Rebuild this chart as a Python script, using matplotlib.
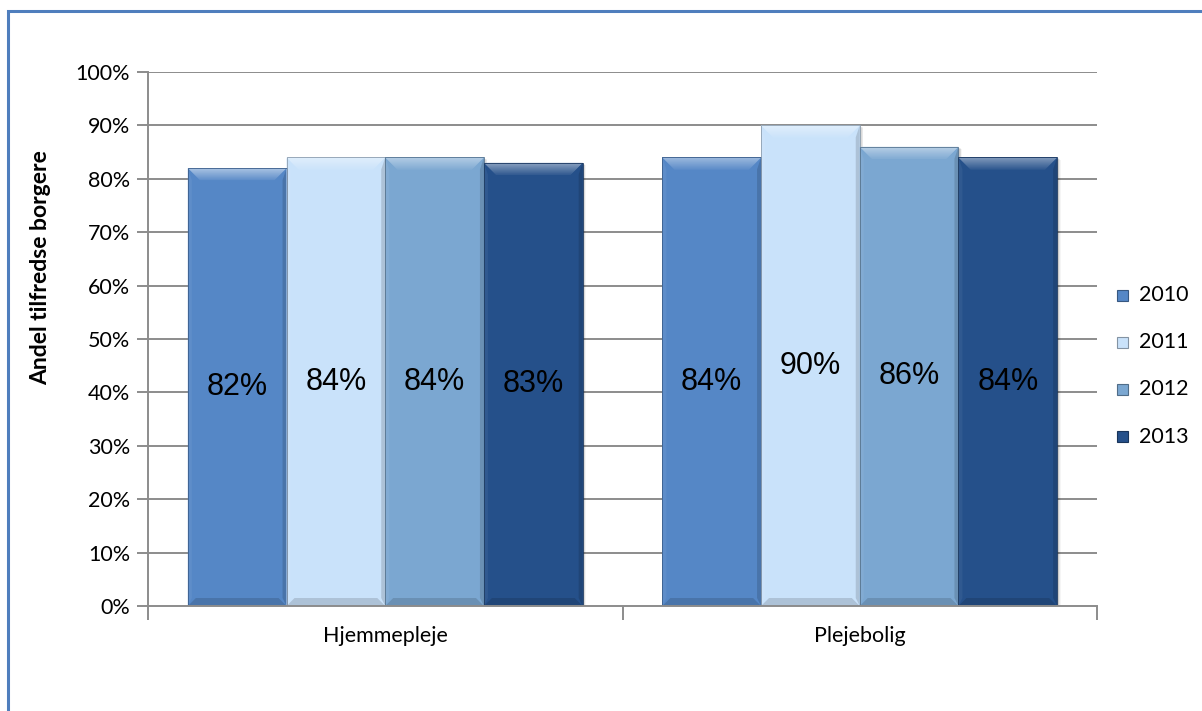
import matplotlib
matplotlib.use("Agg")
import matplotlib.pyplot as plt
from matplotlib.patches import Polygon, Rectangle
from matplotlib.colors import to_rgb
import numpy as np

# Survey data: share of satisfied citizens per service and year
categories = ["Hjemmepleje", "Plejebolig"]
years = ["2010", "2011", "2012", "2013"]
values_2010 = [82, 84]
values_2011 = [84, 90]
values_2012 = [84, 86]
values_2013 = [83, 84]
series = [values_2010, values_2011, values_2012, values_2013]
colors = ["#5587C6", "#C9E2FA", "#7BA7D1", "#25508A"]
y_ticks = [0, 10, 20, 30, 40, 50, 60, 70, 80, 90, 100]
y_label = "Andel tilfredse borgere"

W, H, DPI = 1202, 711, 100
fig = plt.figure(figsize=(W / DPI, H / DPI), dpi=DPI)
fig.patch.set_facecolor("white")

# Outer chart frame (runs off the right and bottom edges)
fig.add_artist(Rectangle((8 / W, -0.05), 1.2, (H - 11) / H + 0.05,
                         transform=fig.transFigure, fill=False,
                         edgecolor="#4F7EBD", lw=2.2, clip_on=False))

ax_l, ax_r, ax_t, ax_b = 148, 1097, 72, 606
ax = fig.add_axes([ax_l / W, (H - ax_b) / H, (ax_r - ax_l) / W, (ax_b - ax_t) / H])
ax.set_xlim(-0.5, len(categories) - 0.5)
ax.set_ylim(0, 100)

px_x = len(categories) / (ax_r - ax_l)   # data units per pixel (x)
px_y = 100 / (ax_b - ax_t)               # data units per pixel (y)

grid_c = "#8C8C8C"
for t in y_ticks[1:]:
    ax.axhline(t, color=grid_c, lw=1.4, zorder=0)

def mix(c, other, f):
    c = np.array(to_rgb(c)); o = np.array(to_rgb(other))
    return tuple(c * (1 - f) + o * f)

def beveled_bar(x0, x1, v, base):
    y0, y1 = 0, v
    bw = x1 - x0
    # soft drop shadow
    for k, a in [(5, 0.04), (4, 0.05), (3, 0.06), (2, 0.07)]:
        ax.add_patch(Rectangle((x0 + k * px_x * 0.7, y0 - k * px_y * 0.5),
                               bw, v, facecolor="black", alpha=a, lw=0, zorder=1))
    ax.add_patch(Rectangle((x0, y0), bw, v, facecolor=base, lw=0, zorder=2))
    tb, sb, bb = 12, 4, 8          # bevel sizes in pixels: top, sides, bottom
    dt, dtx = tb * px_y, tb * px_x
    dsx = sb * px_x
    db, dbx = bb * px_y, bb * px_x
    # left and right bevels
    ax.add_patch(Polygon([(x0, y1), (x0 + dsx, y1 - dt), (x0 + dsx, db), (x0, y0)],
                         closed=True, facecolor=mix(base, "white", 0.05), lw=0, zorder=2.5))
    ax.add_patch(Polygon([(x1, y1), (x1 - dsx, y1 - dt), (x1 - dsx, db), (x1, y0)],
                         closed=True, facecolor=mix(base, "black", 0.14), lw=0, zorder=2.5))
    # bottom bevel
    ax.add_patch(Polygon([(x0, y0), (x1, y0), (x1 - dbx, db), (x0 + dbx, db)],
                         closed=True, facecolor=mix(base, "black", 0.14), lw=0, zorder=3))
    # top bevel as a gradient of thin trapezoids
    steps = 12
    for k in range(steps):
        fa, fb = k / steps, (k + 1) / steps
        f_white = 0.5 * (1 - fa) + 0.05
        ax.add_patch(Polygon([(x0 + dtx * fa, y1 - dt * fa), (x1 - dtx * fa, y1 - dt * fa),
                              (x1 - dtx * fb, y1 - dt * fb), (x0 + dtx * fb, y1 - dt * fb)],
                             closed=True, facecolor=mix(base, "white", f_white),
                             lw=0, zorder=3))
    # thin outline
    ax.add_patch(Rectangle((x0, y0), bw, v, fill=False,
                           edgecolor=mix(base, "black", 0.30), lw=0.6, zorder=4))

bar_w = 0.208
n = len(series)
for si, vals in enumerate(series):
    for ci, v in enumerate(vals):
        xc = ci + (si - (n - 1) / 2) * bar_w
        beveled_bar(xc - bar_w / 2, xc + bar_w / 2, v, colors[si])
        ax.text(xc, v / 2, f"{v}%", ha="center", va="center",
                fontsize=22, family="Liberation Sans", color="black", zorder=5)

# Axes styling
for s in ["top", "right"]:
    ax.spines[s].set_visible(False)
for s in ["left", "bottom"]:
    ax.spines[s].set_color(grid_c)
    ax.spines[s].set_linewidth(1.4)
    ax.spines[s].set_zorder(6)

ax.set_yticks(y_ticks)
ax.set_yticklabels([f"{t}%" for t in y_ticks], family="Lato", fontsize=15.5)
ax.tick_params(axis="y", length=8, width=1.4, color=grid_c, pad=5)

ax.set_xticks([-0.5, 0.5, 1.5])
ax.set_xticklabels([])
ax.tick_params(axis="x", length=10, width=1.4, color=grid_c)
for ci, cat in enumerate(categories):
    ax.text(ci, -5.6, cat, ha="center", va="center", family="Lato", fontsize=15.5)

fig.text(41 / W, 1 - 268 / H, y_label, rotation=90, ha="center", va="center",
         family="Lato", fontweight="bold", fontsize=16.5)

# Legend, drawn at the right of the plot
leg_y = [295, 342, 389, 437]
for yr, col, yy in zip(years, colors, leg_y):
    sz = 11
    fig.add_artist(Rectangle((1117 / W, 1 - (yy + sz / 2) / H), sz / W, sz / H,
                             transform=fig.transFigure, facecolor=col,
                             edgecolor=mix(col, "black", 0.35), lw=0.8))
    fig.text(1139 / W, 1 - yy / H, yr, ha="left", va="center",
             family="Lato", fontsize=15.5)

fig.savefig("out.png", dpi=DPI)
